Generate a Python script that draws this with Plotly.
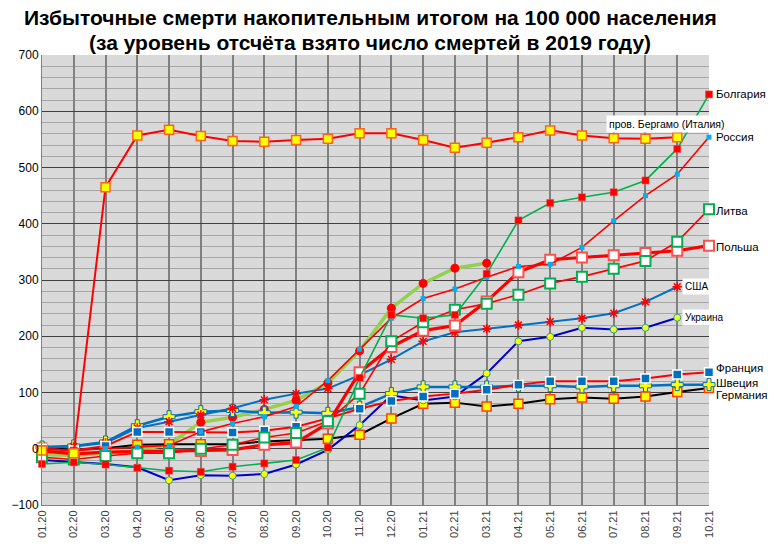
import plotly.graph_objects as go

months = ["01.20", "02.20", "03.20", "04.20", "05.20", "06.20", "07.20", "08.20", "09.20", "10.20", "11.20",
          "12.20", "01.21", "02.21", "03.21", "04.21", "05.21", "06.21", "07.21", "08.21", "09.21", "10.21"]

bergamo = [-3, -8, 465, 557, 567, 556, 547, 546, 549, 551, 561, 561, 549, 535, 544, 554, 566, 557, 552, 551, 554]
bulgaria = [-27, -24, -28, -34, -39, -41, -32, -26, -20, 2, 126, 238, 232, 238, 311, 406, 437, 447, 456, 477, 533, 630]
russia = [0, -3, 0, 3, 6, 30, 45, 57, 75, 121, 177, 232, 267, 284, 305, 324, 328, 358, 405, 450, 488, 554]
lithuania = [-15, -19, -13, -8, -8, 0, 7, 20, 28, 49, 98, 191, 225, 247, 258, 274, 294, 306, 320, 334, 368, 426]
poland = [-4, -9, -6, -5, -4, -4, -2, 7, 11, 45, 136, 181, 210, 219, 262, 314, 336, 340, 344, 348, 352, 361]
usa = [2, 4, 10, 37, 48, 60, 72, 87, 98, 107, 131, 159, 191, 207, 213, 220, 226, 232, 241, 261, 288]
ukraine = [-20, -23, -27, -33, -56, -47, -48, -45, -28, -2, 42, 95, 86, 93, 134, 191, 199, 215, 212, 215, 233]
france = [0, -3, 5, 30, 30, 30, 29, 32, 39, 54, 71, 85, 93, 98, 105, 114, 120, 120, 120, 125, 132, 136]
sweden = [3, 5, 12, 41, 57, 66, 68, 64, 65, 63, 74, 98, 110, 110, 110, 112, 112, 110, 112, 112, 114, 114]
germany = [2, -2, 1, 7, 8, 8, 8, 13, 15, 18, 25, 54, 80, 82, 75, 80, 88, 91, 89, 93, 101, 108]
other = [-10, -12, -8, -3, 8, 47, 56, 70, 86, 117, 174, 250, 294, 321, 330]

ytick_vals = [-100, 0, 100, 200, 300, 400, 500, 600, 700]

title_lines = ["Избыточные смерти накопительным итогом на 100 000 населения",
               "(за уровень отсчёта взято число смертей в 2019 году)"]

x_idx = list(range(len(months)))

fig = go.Figure()


def add(vals, lcolor, lwidth, symbol, msize, mcolor, mline, mlw):
    fig.add_trace(go.Scatter(
        x=x_idx[:len(vals)], y=vals, mode="lines+markers",
        line=dict(color=lcolor, width=lwidth),
        marker=dict(symbol=symbol, size=msize, color=mcolor, line=dict(color=mline, width=mlw)),
        cliponaxis=False, showlegend=False, hoverinfo="skip"))


add(other, "#92D050", 3.5, "circle", 9, "#FF0000", "#FF0000", 0)
add(germany, "#000000", 2, "square", 9, "#FFFF00", "#FF4000", 1.5)
add(ukraine, "#0000CC", 2, "circle", 7, "#FFFF00", "#2AA0A0", 1)
add(sweden, "#0070C0", 2.5, "cross", 10, "#FFFF00", "#0070C0", 1)
add(usa, "#0070C0", 2, "asterisk-open", 8, "#FF0000", "#FF3030", 1.5)
add(france, "#FF0000", 2, "square", 9, "#0070C0", "#FFFFFF", 1.5)
add(poland, "#FF0000", 3.2, "square", 10, "#FFFFFF", "#FF5050", 2)
add(lithuania, "#FF0000", 1.6, "square", 10, "#FFFFFF", "#00B050", 2)
add(russia, "#FF0000", 1.6, "square", 5, "#00B0F0", "#00B0F0", 0)
add(bulgaria, "#00B050", 1.6, "square", 7, "#FF0000", "#FF4040", 0.5)
add(bergamo, "#FF0000", 2, "square", 9, "#FFFF00", "#FF6020", 1.5)

annotations = []
right_labels = [
    ("Болгария", bulgaria, 0),
    ("Россия", russia, 0),
    ("Литва", lithuania, -2),
    ("Польша", poland, -1),
    ("Франция", france, 4),
    ("Швеция", sweden, 2),
    ("Германия", germany, -7),
]
for name, vals, ys in right_labels:
    annotations.append(dict(x=len(vals) - 1, y=vals[-1], xref="x", yref="y", text=name, showarrow=False,
                            xanchor="left", yanchor="middle", xshift=5, yshift=ys,
                            font=dict(family="Liberation Sans", size=11.5, color="#000000")))

for name, vals in [("США", usa), ("Украина", ukraine)]:
    annotations.append(dict(x=len(vals) - 1, y=vals[-1], xref="x", yref="y", text=name, showarrow=False,
                            xanchor="left", yanchor="middle", xshift=5, bgcolor="#FFFFFF", borderpad=2,
                            font=dict(family="Liberation Sans Narrow, Liberation Sans", size=10, color="#000000")))

annotations.append(dict(x=len(bergamo) - 1, y=bergamo[-1], xref="x", yref="y", text="пров. Бергамо (Италия)",
                        showarrow=False, xanchor="right", yanchor="bottom", xshift=51, yshift=4,
                        bgcolor="#FFFFFF", borderpad=2,
                        font=dict(family="Liberation Sans Narrow, Liberation Sans", size=10.5, color="#000000")))

for i, (line, ypos) in enumerate(zip(title_lines, [1.083, 1.028])):
    annotations.append(dict(x=0.492, y=ypos, xref="paper", yref="paper", text="<b>" + line + "</b>",
                            showarrow=False, xanchor="center", yanchor="middle",
                            font=dict(family="Liberation Sans", size=21, color="#000000")))

fig.update_layout(
    width=774, height=550,
    margin=dict(l=40, r=65, t=55, b=39),
    paper_bgcolor="#FFFFFF", plot_bgcolor="#D9D9D9",
    annotations=annotations,
    xaxis=dict(range=[0, len(months) - 1], tickmode="array", tickvals=x_idx, ticktext=months,
               tickangle=-90, showgrid=True, gridcolor="#808080", gridwidth=1.5,
               showline=True, linecolor="#808080", linewidth=1, zeroline=False,
               tickfont=dict(family="Liberation Sans", size=11, color="#404040"), ticks=""),
    yaxis=dict(range=[-100, 700], tickmode="array", tickvals=ytick_vals, showgrid=True,
               gridcolor="#404040", gridwidth=1, zeroline=False, showline=True, linecolor="#808080",
               minor=dict(dtick=20, showgrid=True, gridcolor="#A6A6A6", gridwidth=1),
               tickfont=dict(family="Liberation Sans", size=12, color="#000000"), ticks=""),
)

fig.write_html("out.html")
